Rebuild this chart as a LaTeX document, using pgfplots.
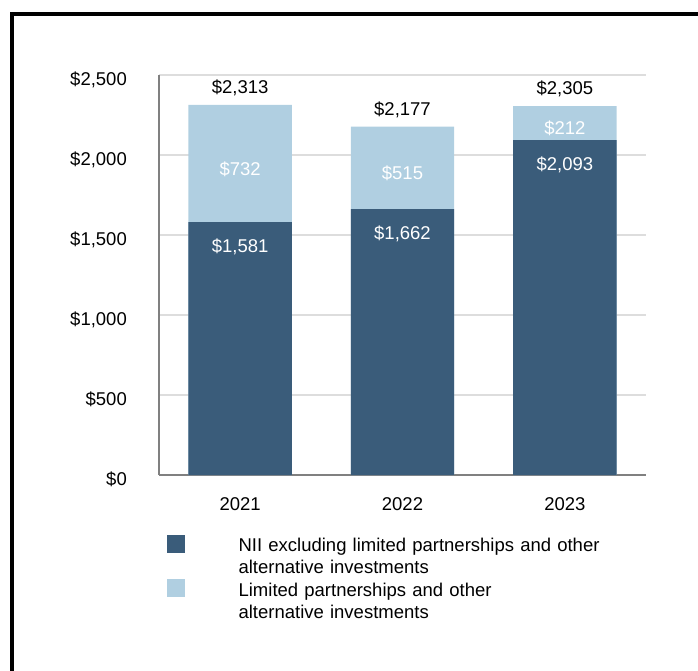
\documentclass[border=0pt]{standalone}
\usepackage{pgfplots}
\pgfplotsset{compat=1.18}
\usepackage{pgfplotstable}
\usepackage{fontspec}
\setmainfont{Liberation Sans}
\definecolor{darkc}{HTML}{3A5C7A}
\definecolor{lightc}{HTML}{B0CFE1}
\definecolor{gridc}{HTML}{DDDDDD}
\definecolor{axc}{HTML}{808080}
\pgfplotstableread{
x dark light
0 1581 732
1 1662 515
2 2093 212
}\data
\begin{document}
\fontsize{18.5}{22.2}\selectfont
\begin{tikzpicture}
\useasboundingbox (0pt,0pt) rectangle (698pt,-671pt);
\draw[line width=4pt, line join=miter] (12pt,-671pt) -- (12pt,-14.3pt) -- (698pt,-14.3pt);
\begin{axis}[
  at={(159pt,-475pt)}, anchor=south west, scale only axis,
  width=487pt, height=400pt,
  xmin=-0.5, xmax=2.5, ymin=0, ymax=2500,
  clip=false,
  axis x line*=bottom, axis y line*=left,
  axis line style={axc, line width=1.8pt, -},
  major tick length=0pt,
  xtick={0,1,2}, xticklabels={2021,2022,2023},
  ytick={0,500,1000,1500,2000,2500},
  yticklabels={{\$0},{\$500},{\$1,000},{\$1,500},{\$2,000},{\$2,500}},
  yticklabel style={anchor=east, inner sep=0pt, xshift=-32pt, yshift=-4.5pt},
  xticklabel style={anchor=north, inner sep=0pt, yshift=-22pt},
  ymajorgrids, grid style={gridc, line width=2pt},
  /pgf/number format/assume math mode=true,
  legend style={at={(0.0164,-0.15)}, anchor=north west, draw=none, fill=none,
    inner sep=0pt, outer sep=0pt, row sep=24.9pt, column sep=0pt,
    nodes={inner sep=0pt, text width=420pt, align=left, anchor=base west}},
  legend image code/.code={\fill[#1] (0pt,-1.3pt) rectangle (18pt,16.7pt); \path[draw=none,fill=none] (0pt,0pt) -- (71.6pt,0pt);},
]
% total (light) bars
\addplot[forget plot, ybar, bar width=0.637, bar shift=0pt, fill=lightc, draw=none,
  point meta=explicit,
  nodes near coords={\$\pgfmathprintnumber[fixed,precision=0,1000 sep={,}]{\pgfplotspointmeta}},
  every node near coord/.style={anchor=base, inner sep=0pt, yshift=11.5pt, text=black}]
  table[x=x, y expr=\thisrow{dark}+\thisrow{light}, meta expr=\thisrow{dark}+\thisrow{light}] {\data};
% dark bars
\addplot[forget plot, ybar, bar width=0.637, bar shift=0pt, fill=darkc, draw=none,
  point meta=explicit,
  nodes near coords={\$\pgfmathprintnumber[fixed,precision=0,1000 sep={,}]{\pgfplotspointmeta}},
  every node near coord/.style={anchor=north, inner sep=0pt, yshift=-16.5pt, text=white}]
  table[x=x, y=dark, meta=dark] {\data};
% labels of light segments
\addplot[forget plot, draw=none, mark=none,
  point meta=explicit,
  nodes near coords={\$\pgfmathprintnumber[fixed,precision=0,1000 sep={,}]{\pgfplotspointmeta}},
  every node near coord/.style={anchor=center, inner sep=0pt, yshift=-5.5pt, text=white}]
  table[x=x, y expr=\thisrow{dark}+0.5*\thisrow{light}, meta=light] {\data};
\addlegendimage{fill=darkc, draw=none}
\addlegendentry{NII excluding limited partnerships and other\\alternative investments}
\addlegendimage{fill=lightc, draw=none}
\addlegendentry{Limited partnerships and other\\alternative investments}
\end{axis}
\end{tikzpicture}
\end{document}
